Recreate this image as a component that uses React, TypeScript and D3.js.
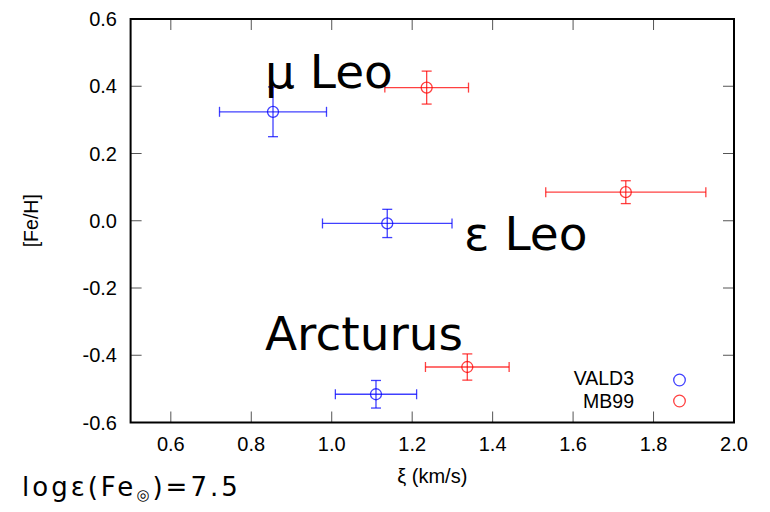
import * as d3 from "d3";

// star names, in the order of the arrays below
const stars = ["μ Leo", "ε Leo", "Arcturus"];

// VALD3 (blue)
const valdXi = [0.854, 1.138, 1.11];
const valdXiErr = [0.133, 0.161, 0.101];
const valdFeH = [0.324, -0.008, -0.516];
const valdFeHErr = [0.074, 0.042, 0.041];

// MB99 (red)
const mb99Xi = [1.236, 1.731, 1.337];
const mb99XiErr = [0.104, 0.199, 0.104];
const mb99FeH = [0.396, 0.085, -0.435];
const mb99FeHErr = [0.049, 0.034, 0.039];

// annotation anchors (data coords)
const labelXi = [0.834, 1.329, 0.834];
const labelFeH = [0.395, -0.0875, -0.385];

const xTicks = [0.6, 0.8, 1.0, 1.2, 1.4, 1.6, 1.8, 2.0];
const yTicks = [0.6, 0.4, 0.2, 0.0, -0.2, -0.4, -0.6];

const W = 770;
const H = 512;
const left = 130.6;
const right = 734;
const top = 19;
const bottom = 422.5;

const x = d3.scaleLinear().domain([0.5, 2.0]).range([left, right]);
const y = d3.scaleLinear().domain([-0.6, 0.6]).range([bottom, top]);

const tickFont = "'Liberation Sans', Arial, Helvetica, sans-serif";
const bigFont = "'DejaVu Sans', Verdana, sans-serif";

function Series({ xs, xe, ys, ye, color }: { xs: number[]; xe: number[]; ys: number[]; ye: number[]; color: string }) {
    return (
        <g stroke={color} strokeOpacity={0.75} strokeWidth={1.3} fill="none">
            {xs.map((v, i) => {
                const cx = x(v);
                const cy = y(ys[i]);
                const x0 = x(v - xe[i]);
                const x1 = x(v + xe[i]);
                const y0 = y(ys[i] + ye[i]);
                const y1 = y(ys[i] - ye[i]);
                return (
                    <g key={i}>
                        <line x1={x0} x2={x1} y1={cy} y2={cy} />
                        <line x1={x0} x2={x0} y1={cy - 5} y2={cy + 5} />
                        <line x1={x1} x2={x1} y1={cy - 5} y2={cy + 5} />
                        <line x1={cx} x2={cx} y1={y0} y2={y1} />
                        <line x1={cx - 5} x2={cx + 5} y1={y0} y2={y0} />
                        <line x1={cx - 5} x2={cx + 5} y1={y1} y2={y1} />
                        <circle cx={cx} cy={cy} r={5.5} />
                    </g>
                );
            })}
        </g>
    );
}

export default function App() {
    const tickLen = 11;
    return (
        <svg
            width={W}
            height={H}
            viewBox={`0 0 ${W} ${H}`}
            style={{ position: "absolute", left: 0, top: 0, background: "#fff" }}
        >
            {/* ticks, mirrored on all sides */}
            <g stroke="#555" strokeWidth={1}>
                {xTicks.filter((t) => t < 2.0).map((t) => (
                    <g key={t}>
                        <line x1={x(t)} x2={x(t)} y1={bottom} y2={bottom - tickLen} />
                        <line x1={x(t)} x2={x(t)} y1={top} y2={top + tickLen} />
                    </g>
                ))}
                {yTicks.filter((t) => t > -0.6 && t < 0.6).map((t) => (
                    <g key={t}>
                        <line x1={left} x2={left + tickLen} y1={y(t)} y2={y(t)} />
                        <line x1={right} x2={right - tickLen} y1={y(t)} y2={y(t)} />
                    </g>
                ))}
            </g>

            <Series xs={valdXi} xe={valdXiErr} ys={valdFeH} ye={valdFeHErr} color="#0000ff" />
            <Series xs={mb99Xi} xe={mb99XiErr} ys={mb99FeH} ye={mb99FeHErr} color="#ff0000" />

            <rect x={left} y={top} width={right - left} height={bottom - top} fill="none" stroke="#000" strokeWidth={2} />

            {/* tick labels */}
            <g fontFamily={tickFont} fontSize={20} fill="#000">
                {xTicks.map((t) => (
                    <text key={t} x={x(t)} y={451} textAnchor="middle">
                        {d3.format(".1f")(t)}
                    </text>
                ))}
                {yTicks.map((t) => (
                    <text key={t} x={117} y={y(t) + 7} textAnchor="end">
                        {d3.format(".1f")(t).replace("−", "-")}
                    </text>
                ))}
            </g>

            {/* axis titles */}
            <text x={(left + right) / 2} y={483} textAnchor="middle" fontFamily={tickFont} fontSize={20}>
                ξ (km/s)
            </text>
            <text
                transform={`translate(38,${(top + bottom) / 2}) rotate(-90)`}
                textAnchor="middle"
                fontFamily={tickFont}
                fontSize={19.5}
            >
                [Fe/H]
            </text>

            {/* legend */}
            <g fontFamily={tickFont} fontSize={19.5} textAnchor="end">
                <text x={634} y={385}>VALD3</text>
                <text x={634} y={408}>MB99</text>
            </g>
            <circle cx={679.5} cy={380} r={5.8} fill="none" stroke="#0000ff" strokeOpacity={0.75} strokeWidth={1.3} />
            <circle cx={679.5} cy={401} r={5.8} fill="none" stroke="#ff0000" strokeOpacity={0.75} strokeWidth={1.3} />

            {/* star annotations */}
            <g fontFamily={bigFont} fontSize={47} fill="#000">
                {stars.map((s, i) => (
                    <text key={s} x={x(labelXi[i])} y={y(labelFeH[i])}>
                        {s}
                    </text>
                ))}
            </g>

            <text x={22} y={496} fontFamily={bigFont} fontSize={26} letterSpacing={3}>
                logε(Fe
                <tspan fontSize={15} dy={4}>◎</tspan>
                <tspan dy={-4}>)=7.5</tspan>
            </text>
        </svg>
    );
}
